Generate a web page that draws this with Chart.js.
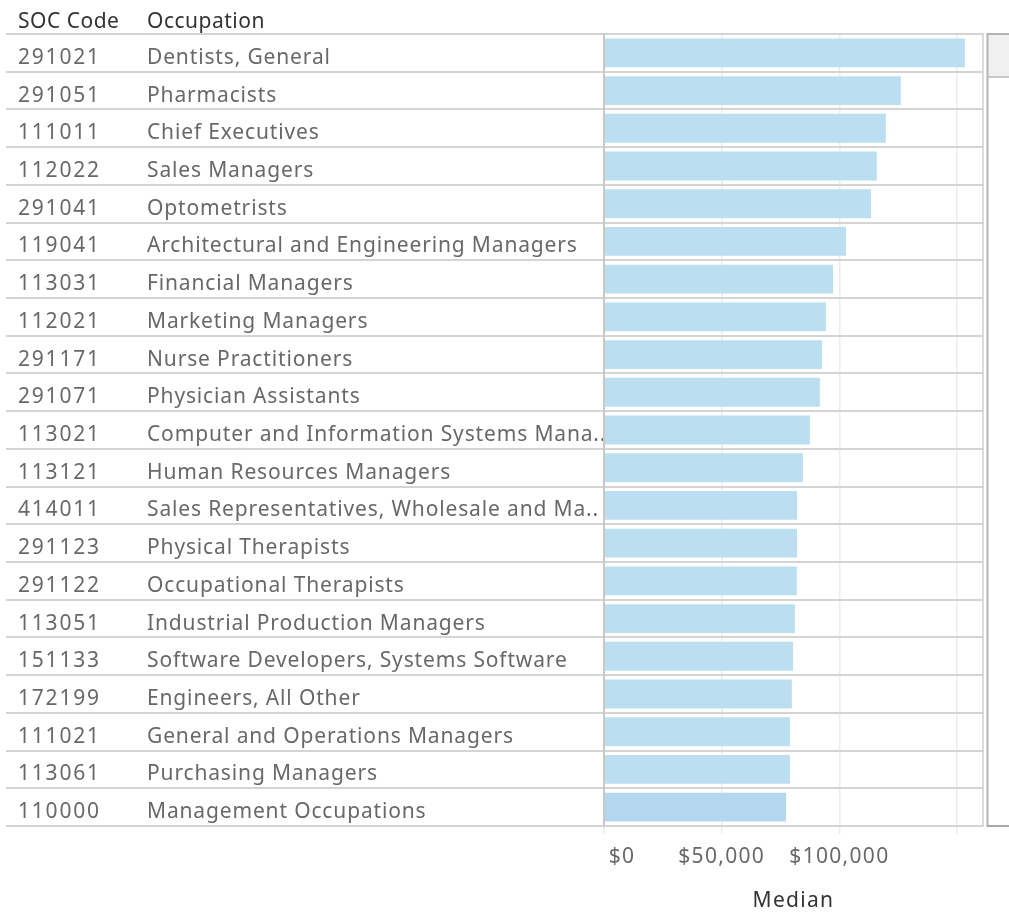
<!DOCTYPE html>
<html><head><meta charset="utf-8">
<script src="https://cdn.jsdelivr.net/npm/chart.js@4.4.1/dist/chart.umd.min.js"></script>
<style>html,body{margin:0;padding:0;background:#fff;overflow:hidden}#wrap{width:1009px;height:915px}</style>
</head><body><div id="wrap"><canvas id="c" width="1009" height="915"></canvas></div>
<script>
const socCodes = ['291021','291051','111011','112022','291041','119041','113031','112021','291171','291071','113021','113121','414011','291123','291122','113051','151133','172199','111021','113061','110000'];
const occupations = ['Dentists, General','Pharmacists','Chief Executives','Sales Managers','Optometrists','Architectural and Engineering Managers','Financial Managers','Marketing Managers','Nurse Practitioners','Physician Assistants','Computer and Information Systems Managers','Human Resources Managers','Sales Representatives, Wholesale and Manufacturing','Physical Therapists','Occupational Therapists','Industrial Production Managers','Software Developers, Systems Software','Engineers, All Other','General and Operations Managers','Purchasing Managers','Management Occupations'];
const medianWages = [153300,126100,119700,115900,113400,102800,97300,94300,92600,91700,87500,84500,82000,82000,81900,81100,80300,79800,79000,79000,77300];
const xTickValues = [0,50000,100000];
const headers = ['SOC Code','Occupation'];
const axisTitle = 'Median';

const FONT = '"Noto Sans", sans-serif';
const FS = 21;
const barColors = medianWages.map((v,i)=> i===medianWages.length-1 ? '#b3d7ee' : '#bbdef0');

function fitText(ctx, t, maxW){
  if (ctx.measureText(t).width <= maxW) return t;
  let s = t;
  while (s.length > 1 && ctx.measureText(s + '..').width > maxW) s = s.slice(0,-1);
  return s + '..';
}

const tablePlugin = {
  id: 'table',
  beforeDraw(chart){ chart.ctx.letterSpacing = '1.3px'; },
  afterDraw(chart){
    const ctx = chart.ctx, y = chart.scales.y, ca = chart.chartArea;
    const half = (y.getPixelForValue(1) - y.getPixelForValue(0)) / 2;
    ctx.save();
    // header
    ctx.fillStyle = '#333';
    ctx.font = FS + 'px ' + FONT;
    ctx.textBaseline = 'alphabetic';
    ctx.textAlign = 'left';
    ctx.letterSpacing = '0.5px';
    ctx.fillText(headers[0], 18, 28);
    ctx.fillText(headers[1], 147, 28);
    // rows
    ctx.fillStyle = '#686868';
    occupations.forEach((occ, i) => {
      const cy = y.getPixelForValue(i);
      ctx.letterSpacing = '1.8px';
      ctx.fillText(socCodes[i], 18, cy + 11);
      ctx.letterSpacing = '0.85px';
      ctx.fillText(fitText(ctx, occ, 464), 147, cy + 11);
    });
    ctx.letterSpacing = '0px';
    // row lines
    ctx.strokeStyle = '#d4d4d4';
    ctx.lineWidth = 2;
    for (let i = 0; i <= occupations.length; i++) {
      const ly = Math.round(y.getPixelForValue(0) - half + i * 2 * half);
      ctx.beginPath(); ctx.moveTo(6, ly); ctx.lineTo(ca.right, ly); ctx.stroke();
    }
    // pane borders
    ctx.strokeStyle = '#c8c8c8';
    ctx.beginPath(); ctx.moveTo(ca.left, ca.top - 1); ctx.lineTo(ca.left, ca.bottom + 1); ctx.stroke();
    ctx.strokeStyle = '#d0d0d0';
    ctx.lineWidth = 1.5;
    ctx.beginPath(); ctx.moveTo(ca.right, ca.top - 1); ctx.lineTo(ca.right, ca.bottom + 1); ctx.stroke();
    // scrollbar
    ctx.fillStyle = '#f0f0f0';
    ctx.fillRect(988, ca.top, 21, 43);
    ctx.strokeStyle = '#b4b4b4';
    ctx.lineWidth = 2;
    ctx.beginPath(); ctx.moveTo(987.5, ca.top - 1); ctx.lineTo(987.5, ca.bottom + 1); ctx.stroke();
    ctx.beginPath(); ctx.moveTo(987, ca.top); ctx.lineTo(1009, ca.top); ctx.stroke();
    ctx.strokeStyle = '#c8c8c8';
    ctx.beginPath(); ctx.moveTo(988, ca.top + 43); ctx.lineTo(1009, ca.top + 43); ctx.stroke();
    ctx.strokeStyle = '#aaaaaa';
    ctx.beginPath(); ctx.moveTo(987, ca.bottom); ctx.lineTo(1009, ca.bottom); ctx.stroke();
    ctx.restore();
  }
};

new Chart(document.getElementById('c'), {
  type: 'bar',
  data: {
    labels: occupations,
    datasets: [{ data: medianWages, backgroundColor: barColors, borderWidth: 0, barPercentage: 1, categoryPercentage: 0.765 }]
  },
  options: {
    indexAxis: 'y',
    responsive: false,
    animation: false,
    devicePixelRatio: 1,
    layout: { padding: { left: 604, right: 26, top: 34, bottom: 0 } },
    plugins: { legend: { display: false }, tooltip: { enabled: false } },
    scales: {
      y: { display: false },
      x: {
        min: 0, max: 161000,
        afterFit: s => { s.height = 89; },
        afterBuildTicks: s => { s.ticks = xTickValues.concat([150000]).map(v => ({ value: v })); },
        border: { display: false },
        grid: { color: '#ebebeb', lineWidth: 1.5, tickLength: 8, drawTicks: true },
        ticks: {
          align: 'inner',
          padding: 10,
          color: '#686868',
          font: { family: FONT, size: FS },
          callback: v => xTickValues.includes(v) ? (v === 0 ? '\u2009$0' : '$' + v.toLocaleString('en-US')) : ''
        },
        title: { display: true, text: axisTitle, color: '#333', font: { family: FONT, size: FS }, padding: { top: 0, bottom: 1 } }
      }
    }
  },
  plugins: [tablePlugin]
});
</script></body></html>
